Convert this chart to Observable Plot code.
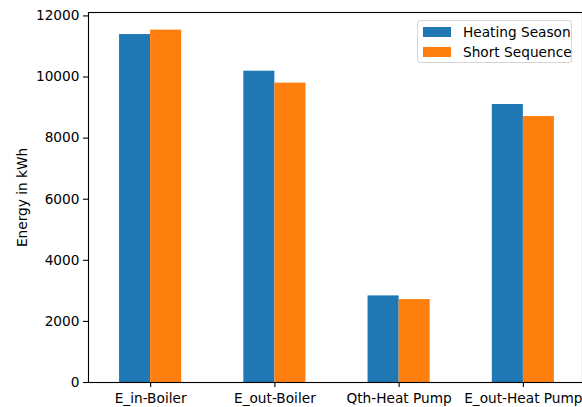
<!DOCTYPE html>
<html>
<head>
<meta charset="utf-8">
<script src="https://cdn.jsdelivr.net/npm/d3@7"></script>
<script src="https://cdn.jsdelivr.net/npm/@observablehq/plot@0.6"></script>
<style>
  html, body { margin: 0; padding: 0; background: #fff; overflow: hidden; }
  #wrap { position: relative; width: 582px; height: 407px; font-family: "DejaVu Sans", sans-serif; }
  #legend { position: absolute; left: 417px; top: 20px; width: 155px; height: 43px; border: 1px solid #d5d5d5; border-radius: 3px; background: rgba(255,255,255,0.8); box-sizing: border-box; font-size: 13.7px; color: #000; white-space: nowrap; }
  .row { position: absolute; left: 5px; height: 16px; display: flex; align-items: center; white-space: nowrap; }
  .sw { width: 28px; height: 10px; margin-right: 12px; flex: none; }
</style>
</head>
<body>
<div id="wrap"><div id="legend"></div></div>
<script>
const categories = ["E_in-Boiler", "E_out-Boiler", "Qth-Heat Pump", "E_out-Heat Pump"];
const seriesNames = ["Heating Season", "Short Sequence"];
const heatingSeason = [11390, 10190, 2835, 9100];
const shortSequence = [11535, 9800, 2715, 8705];
const colors = ["#1f77b4", "#ff7f0e"];
const yTicks = [0, 2000, 4000, 6000, 8000, 10000, 12000];
const yLabel = "Energy in kWh";

const seriesValues = [heatingSeason, shortSequence];
const barWidth = 0.25;
const rows = [];
categories.forEach((c, i) => {
  seriesNames.forEach((s, j) => {
    rows.push({i, category: c, series: s, value: seriesValues[j][i], off: (j - 1) * barWidth});
  });
});
const maxV = d3.max(rows, d => d.value) * 1.05;

const chart = Plot.plot({
  width: 582,
  height: 407,
  marginLeft: 88,
  marginTop: 12,
  marginBottom: 25,
  marginRight: 0,
  style: {fontFamily: "DejaVu Sans, sans-serif", fontSize: "13.7px", color: "#000", background: "transparent", overflow: "visible"},
  x: {type: "linear", domain: [-0.5, categories.length - 0.5], range: [88, 585]},
  y: {domain: [0, maxV]},
  color: {domain: seriesNames, range: colors},
  marks: [
    Plot.rect(rows, {x1: d => d.i + d.off, x2: d => d.i + d.off + barWidth, y1: 0, y2: "value", fill: "series"}),
    Plot.frame({stroke: "#000", strokeWidth: 1.1}),
    Plot.axisY({ticks: yTicks, tickSize: 5, tickPadding: 4, tickFormat: d => String(d), label: null, fontSize: "13.7px", strokeWidth: 1.1}),
    Plot.axisX({ticks: categories.map((c, i) => i), tickSize: 5, tickPadding: 6, tickFormat: i => categories[i], label: null, fontSize: "13.7px", strokeWidth: 1.1}),
    Plot.text([yLabel], {frameAnchor: "left", textAnchor: "middle", rotate: -90, dx: -66, text: d => d, fontSize: "13.7px", fill: "#000"})
  ]
});
document.getElementById("wrap").prepend(chart);
chart.style.position = "absolute";
chart.style.left = "0";
chart.style.top = "0";

const legend = document.getElementById("legend");
seriesNames.forEach((s, j) => {
  const r = document.createElement("div");
  r.className = "row";
  r.style.top = (3 + j * 20) + "px";
  const sw = document.createElement("div");
  sw.className = "sw";
  sw.style.background = colors[j];
  const t = document.createElement("span");
  t.textContent = s;
  r.appendChild(sw);
  r.appendChild(t);
  legend.appendChild(r);
});
</script>
</body>
</html>
